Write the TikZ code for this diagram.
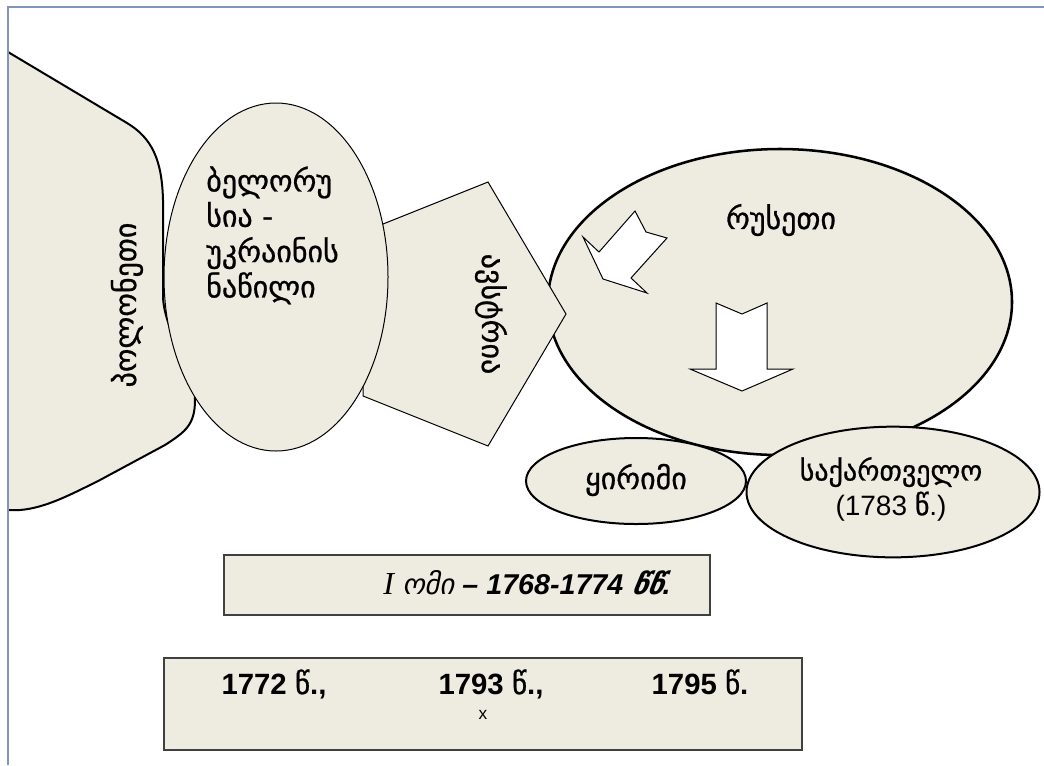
\documentclass[tikz,border=0pt]{standalone}
\usepackage{fontspec}
\setmainfont{Liberation Sans}
\newfontfamily\geo[FakeBold=0.8]{DejaVu Sans}
\newfontfamily\geoit[FakeSlant=0.2]{DejaVu Sans}
\newfontfamily\serifit{Liberation Serif}
\usetikzlibrary{shapes.geometric}
\definecolor{beige}{HTML}{EEECE1}
\definecolor{slideframe}{HTML}{7F95BB}
\tikzset{
  region/.style={draw=black, fill=beige},
  oval/.style={ellipse, region, inner sep=0pt},
  geotext/.style={font=\geo\fontsize{22.5}{26.5}\selectfont, inner sep=0pt},
  yeartext/.style={font=\bfseries\fontsize{22}{24}\selectfont, inner sep=0pt, anchor=base},
  yearbox/.style={draw=black!75, fill=beige, line width=1pt, rectangle, inner sep=0pt},
  blockarrow/.style={draw=black, fill=white, line width=0.75pt, line join=miter},
}
\begin{document}
\begin{tikzpicture}[x=0.75pt,y=-0.75pt]
\useasboundingbox (0,0) rectangle (1044,765);
% Russia
\node[oval, line width=1.9pt, minimum width=348pt, minimum height=229.5pt] (russia) at (780,302) {};
% arrows inside Russia
\draw[blockarrow] (583,237) -- (599,252) -- (635,211) -- (646,232) -- (667,238) -- (631,278) -- (647,293) -- (603,279) -- cycle;
\draw[blockarrow] (716,303) -- (742,314) -- (767,303) -- (767,369) -- (793,369) -- (742,391) -- (690,369) -- (716,369) -- cycle;
% pentagon (Austria)
\draw[region, line width=0.75pt, line join=miter] (363,232) -- (488,182) -- (566,314) -- (488,446) -- (363,396) -- cycle;
\coordinate (austriac) at (491,314);
% Poland
\fill[beige] (8,52) -- (127,123) .. controls (152,138) and (162,160) .. (163,200) -- (163,295) .. controls (163,330) and (195,370) .. (195,400) .. controls (195,425) and (185,432) .. (165,445) -- (100,480) .. controls (70,495) and (45,508) .. (20,510) -- (8,510) -- cycle;
\draw[line width=1.5pt] (8,52) -- (127,123) .. controls (152,138) and (162,160) .. (163,200) -- (163,295) .. controls (163,330) and (195,370) .. (195,400) .. controls (195,425) and (185,432) .. (165,445) -- (100,480) .. controls (70,495) and (45,508) .. (20,510) -- (8,510);
% Belarus-Ukraine
\node[oval, line width=0.75pt, minimum width=168pt, minimum height=261pt] (belarus) at (276,277) {};
% Crimea, Georgia
\node[oval, line width=1.5pt, minimum width=165pt, minimum height=64.5pt] (crimea) at (636,481) {};
\node[oval, line width=1.5pt, minimum width=219.75pt, minimum height=98pt] (georgia) at (893,492) {};
% boxes
\node[yearbox, minimum width=364.5pt, minimum height=45pt] (war) at (467,585) {};
\node[yearbox, minimum width=478.5pt, minimum height=69pt] (partitions) at (483,704) {};
% texts
\node[geotext, rotate=90] (polandt) at (127,305) {პოლონეთი};
\node[geotext, rotate=-90] (austriat) at (austriac) {ავსტრია};
\node[geotext, align=left, anchor=north west] (belarust) at (206,166) {ბელორუ\\სია -\\უკრაინის\\ნაწილი};
\node[geotext] (russiat) at (781,220) {რუსეთი};
\node[geotext] (crimeat) at (636,480) {ყირიმი};
\node[font=\fontsize{21}{26}\selectfont, align=center, inner sep=0pt] (georgiat) at (891,489) {{\geo საქართველო}\\(1783 {\geo წ}.)};
\node[font=\fontsize{21.5}{24}\selectfont, inner sep=0pt] (wart) at (527,583) {{\serifit\itshape\fontsize{24}{24}\selectfont I} {\geoit ომი} {\bfseries\itshape – 1768-1774 {\geoit წწ}.}};
\node[yeartext] (y1772) at (274,694) {1772 {\geo\mdseries წ}.,};
\node[yeartext] (y1793) at (491,694) {1793 {\geo\mdseries წ}.,};
\node[yeartext] (y1795) at (700,694) {1795 {\geo\mdseries წ}.};
\node[font=\fontsize{13}{15}\selectfont, inner sep=0pt, anchor=base] (xmark) at (483,719) {x};
% slide frame
\draw[slideframe, line width=1.4pt] (8,765) -- (8,7) -- (1044,7);
\end{tikzpicture}
\end{document}
